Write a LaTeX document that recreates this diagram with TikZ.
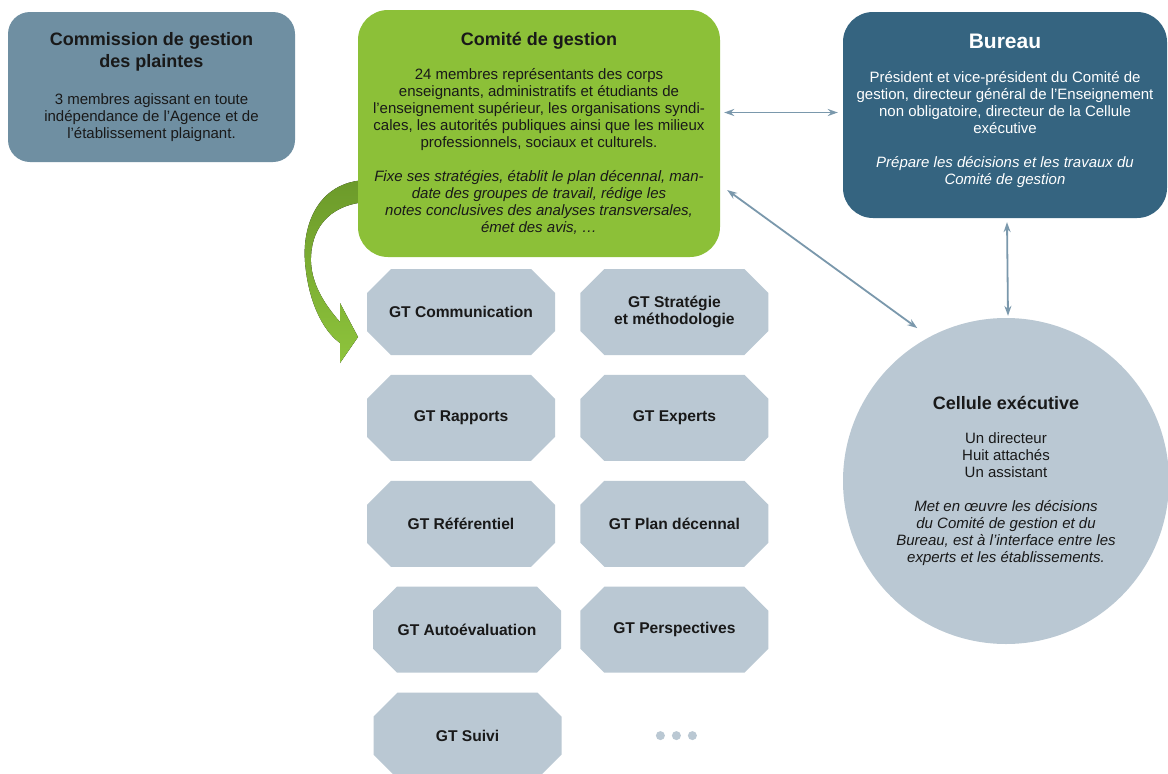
\documentclass[tikz,border=0pt]{standalone}
\usepackage{fontspec}
\setmainfont{Liberation Sans}
\usepackage{tikz}
\usetikzlibrary{arrows.meta,positioning,calc}
\definecolor{plaintes}{RGB}{111,143,162}
\definecolor{comitegreen}{RGB}{140,192,56}
\definecolor{arrowdark}{RGB}{108,154,42}
\definecolor{arrowlight}{RGB}{142,196,60}
\definecolor{bureaublue}{RGB}{53,100,128}
\definecolor{paleblue}{RGB}{186,200,211}
\definecolor{linkblue}{RGB}{122,152,172}
\newcommand{\boxtitle}{\fontsize{18}{21}\selectfont\bfseries}
\tikzstyle{panel}=[align=center,text=black!90,font=\fontsize{15}{17}\selectfont]
\tikzstyle{bubble}=[circle,align=center,text=black!90,font=\fontsize{15}{17}\selectfont]
\tikzstyle{gtbox}=[minimum width=188pt,minimum height=86pt,align=center,text=black!90,
  font=\fontsize{15.6}{17.5}\selectfont\bfseries,
  path picture={\fill[paleblue] ([xshift=24pt]path picture bounding box.north west)
    -- ([xshift=-24pt]path picture bounding box.north east)
    -- ([yshift=-24pt]path picture bounding box.north east)
    -- ([yshift=24pt]path picture bounding box.south east)
    -- ([xshift=-24pt]path picture bounding box.south east)
    -- ([xshift=24pt]path picture bounding box.south west)
    -- ([yshift=24pt]path picture bounding box.south west)
    -- ([yshift=-24pt]path picture bounding box.north west) -- cycle;}]
\tikzstyle{gtdot}=[circle,fill=paleblue,minimum size=9pt,inner sep=0pt]
\tikzstyle{link}=[<->,draw=linkblue,line width=1.8pt]
\begin{document}
\begin{tikzpicture}[x=1pt,y=-1pt,>={Stealth[length=10pt,width=7pt]}]
\fill[white] (0,0) rectangle (1168,774);
\useasboundingbox (0,0) rectangle (1168,774);

% green arrow from the committee to its working groups
\fill[top color=arrowdark,bottom color=arrowlight] (366,180)
  .. controls (318,182) and (302,225) .. (305,262)
  .. controls (308,300) and (322,330) .. (340,343)
  -- (340,363) -- (358,337) -- (340,303) -- (340,322)
  .. controls (325,305) and (312,285) .. (311,262)
  .. controls (310,230) and (328,205) .. (366,202) -- cycle;

\node[panel,fill=plaintes,minimum width=287pt,minimum height=150pt,rounded corners=22pt] (plaintes) at (151.5,87)
  {{\boxtitle Commission de gestion}\\[5pt]
   {\boxtitle des plaintes}\\[20pt]
   3 membres agissant en toute\\
   indépendance de l’Agence et de\\
   l’établissement plaignant.};

\node[panel,fill=comitegreen,minimum width=362pt,minimum height=247pt,rounded corners=30pt] (comite) at (539,133.5)
  {{\boxtitle Comité de gestion}\\[17pt]
   24 membres représentants des corps\\
   enseignants, administratifs et étudiants de\\
   l’enseignement supérieur, les organisations syndi-\\
   cales, les autorités publiques ainsi que les milieux\\
   professionnels, sociaux et culturels.\\[17pt]
   \textit{Fixe ses stratégies, établit le plan décennal, man-}\\
   \textit{date des groupes de travail, rédige les}\\
   \textit{notes conclusives des analyses transversales,}\\
   \textit{émet des avis, …}};

\node[panel,fill=bureaublue,text=white,minimum width=324pt,minimum height=206pt,rounded corners=30pt] (bureau) at (1005,115)
  {{\fontsize{21}{24}\selectfont\bfseries Bureau}\\[17pt]
   Président et vice-président du Comité de\\
   gestion, directeur général de l’Enseignement\\
   non obligatoire, directeur de la Cellule\\
   exécutive\\[17pt]
   \textit{Prépare les décisions et les travaux du}\\
   \textit{Comité de gestion}\\[-5pt]\mbox{}};

\node[bubble,fill=paleblue,minimum size=326pt] (cellule) at (1006,481)
  {{\boxtitle Cellule exécutive}\\[17pt]
   Un directeur\\
   Huit attachés\\
   Un assistant\\[17pt]
   \textit{Met en œuvre les décisions}\\
   \textit{du Comité de gestion et du}\\
   \textit{Bureau, est à l’interface entre les}\\
   \textit{experts et les établissements.}};

% working groups
\node[gtbox] (gtcom) at (461,312) {GT Communication};
\node[gtbox,right=25pt of gtcom] (gtstrat) {GT Stratégie\\ et méthodologie};
\node[gtbox,below=19.5pt of gtcom] (gtrap) {GT Rapports};
\node[gtbox,right=25pt of gtrap] (gtexp) {GT Experts};
\node[gtbox,below=19.5pt of gtrap] (gtref) {GT Référentiel};
\node[gtbox,right=25pt of gtref] (gtplan) {GT Plan décennal};
\node[gtbox,below=19.5pt of gtref,xshift=6pt] (gtauto) {GT Autoévaluation};
\node[gtbox,below=19.5pt of gtplan] (gtpers) {GT Perspectives};
\node[gtbox,below=19.5pt of gtauto,xshift=0.5pt] (gtsuivi) {GT Suivi};
\foreach \i in {1,2,3}
  \node[gtdot] (dot\i) at ($(gtpers |- gtsuivi)+(16*\i-30,0)$) {};

% links
\draw[link] ($(bureau.west)+(-5,-2.5)$) -- ($(comite.east |- bureau.west)+(4,-2.5)$);
\draw[link] ($(bureau.south)+(2,4)$) -- ($(cellule.north)+(2,-2)$);
\draw[link,shorten >=15pt] ($(comite.east)+(7,56.5)$) -- (cellule.118);
\end{tikzpicture}
\end{document}
